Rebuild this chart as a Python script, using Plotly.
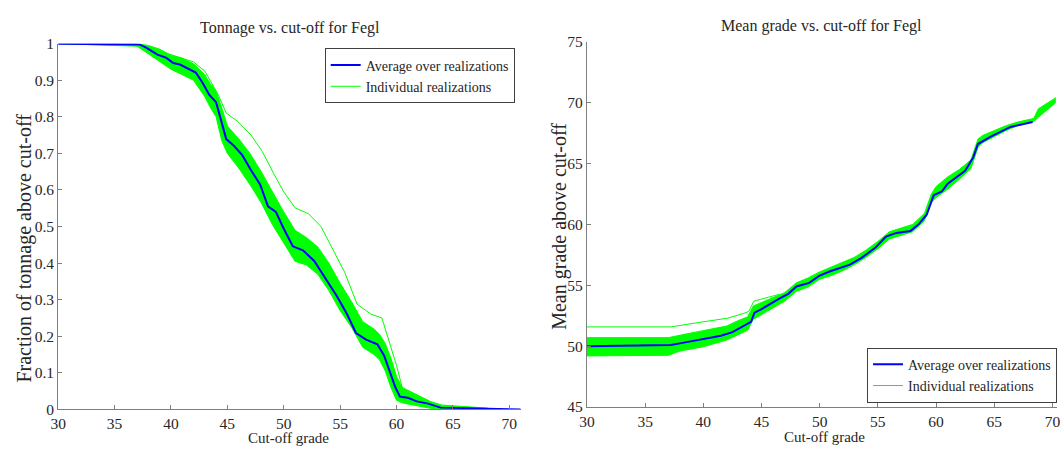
import plotly.graph_objects as go

# ---------------- Left panel: tonnage vs cut-off ----------------
avg_L_x = [30, 37.2, 37.8, 38.8, 39.6, 40.2, 40.8, 41.5, 42.2, 42.8, 43.4, 44.0, 44.4, 44.9,
           45.6, 46.3, 47.1, 47.9, 48.6, 49.3, 50.0, 50.8, 51.7, 52.7, 53.7, 54.7, 55.6,
           56.4, 57.3, 58.3, 58.9, 59.5, 59.9, 60.3, 61.0, 61.8, 62.8, 63.9, 66.5, 68.5, 69.5, 71.0]
avg_L_y = [1.0, 0.998, 0.989, 0.970, 0.961, 0.947, 0.943, 0.932, 0.921, 0.893, 0.860, 0.840,
           0.797, 0.739, 0.720, 0.696, 0.654, 0.615, 0.555, 0.540, 0.494, 0.446, 0.435, 0.406,
           0.358, 0.310, 0.261, 0.209, 0.191, 0.178, 0.147, 0.095, 0.060, 0.035, 0.032, 0.022,
           0.016, 0.005, 0.003, 0.001, 0.0, 0.0]

band_L_x = [30, 33, 37, 38, 39, 40, 41, 42, 43, 43.5, 44, 44.5, 45, 46, 47, 48, 49, 50, 51, 52,
            53, 54, 55, 56, 57, 58, 58.5, 59, 59.5, 60, 60.5, 61, 62, 63, 64, 65, 66, 67, 68, 68.5]
band_L_hi = [1.0, 1.0, 1.0, 0.995, 0.985, 0.968, 0.960, 0.945, 0.915, 0.890, 0.870, 0.825, 0.775,
             0.740, 0.700, 0.650, 0.595, 0.540, 0.490, 0.470, 0.445, 0.400, 0.345, 0.295, 0.240,
             0.220, 0.205, 0.180, 0.140, 0.090, 0.060, 0.052, 0.036, 0.022, 0.012, 0.010, 0.008,
             0.006, 0.004, 0.0]
band_L_lo = [1.0, 0.997, 0.993, 0.972, 0.950, 0.930, 0.915, 0.900, 0.855, 0.825, 0.800, 0.735,
             0.700, 0.660, 0.615, 0.565, 0.505, 0.455, 0.405, 0.395, 0.370, 0.325, 0.270, 0.225,
             0.170, 0.150, 0.135, 0.105, 0.060, 0.025, 0.018, 0.015, 0.008, 0.003, 0.001, 0.0,
             0.0, 0.0, 0.0, 0.0]

out_L_x = [30, 37, 40, 42, 43, 43.6, 44.2, 44.9, 45.9, 47.1, 48.1, 49.1, 50.0, 51.0, 52.2, 53.3,
           54.2, 55.4, 56.5, 57.7, 58.7, 59.4, 60.0, 60.5, 61.0, 62.0, 64.0, 66.0, 68.0]
out_L_y = [1.0, 1.0, 0.970, 0.950, 0.925, 0.893, 0.860, 0.810, 0.788, 0.750, 0.705, 0.645, 0.595,
           0.551, 0.535, 0.500, 0.445, 0.375, 0.288, 0.261, 0.250, 0.180, 0.120, 0.060, 0.045,
           0.030, 0.010, 0.005, 0.002]

# ---------------- Right panel: mean grade vs cut-off ----------------
avg_R_x = [30, 37.2, 38.1, 39.5, 40.1, 41.5, 42.5, 43.8, 44.1, 44.4, 45.0, 46.6, 47.3, 48.0, 49.1,
           50.0, 50.9, 52.6, 53.6, 54.8, 55.7, 56.6, 57.8, 58.5, 59.2, 59.8, 60.5, 61.0, 62.5,
           63.2, 63.6, 64.7, 66.4, 68.3]
avg_R_y = [50.0, 50.1, 50.25, 50.5, 50.65, 50.85, 51.15, 51.8, 52.0, 52.75, 53.05, 53.95, 54.3,
           54.9, 55.2, 55.8, 56.15, 56.7, 57.25, 58.1, 59.0, 59.3, 59.45, 60.0, 60.8, 62.4, 62.7,
           63.35, 64.4, 65.5, 66.6, 67.2, 68.0, 68.4]

band_R_x = [30, 37, 38, 40, 42, 43, 43.8, 44.3, 45, 46, 47, 48, 49, 50, 51, 52, 53, 54, 55, 56,
            57, 58, 59, 59.6, 60, 61, 62, 63, 63.6, 64, 65, 66, 67, 68, 68.4, 68.8, 70.3]
band_R_hi = [50.7, 50.7, 50.9, 51.25, 51.65, 52.1, 52.4, 53.3, 53.6, 54.0, 54.4, 55.2, 55.6, 56.1,
             56.5, 56.85, 57.3, 57.9, 58.6, 59.4, 59.7, 60.0, 60.9, 62.5, 63.1, 63.9, 64.5, 65.3,
             67.0, 67.3, 67.7, 68.1, 68.4, 68.6, 68.7, 69.5, 70.4]
band_R_lo = [49.2, 49.25, 49.6, 49.95, 50.5, 50.95, 51.3, 52.2, 52.6, 53.2, 53.7, 54.5, 54.85, 55.5,
             55.8, 56.2, 56.7, 57.3, 58.0, 58.8, 59.1, 59.4, 60.3, 61.8, 62.2, 62.9, 63.7, 64.6,
             66.3, 66.7, 67.2, 67.7, 68.1, 68.35, 68.45, 68.8, 70.0]

out_R_x = [30, 37.2, 39.8, 42.1, 43.5, 43.9, 44.35, 45.5, 46.5]
out_R_y = [51.58, 51.58, 51.97, 52.3, 52.7, 52.85, 53.7, 54.0, 54.25]

BLUE = "#0000FF"
GREEN = "#00FF00"
FONT = "Liberation Serif, Times New Roman, serif"
TXT = "#262626"
AX = "#7f7f7f"

fig = go.Figure()


def add_panel(xa, ya, leg, bx, blo, bhi, ox, oy, ax_, ay_):
    fig.add_trace(go.Scatter(x=bx, y=blo, mode="lines", line=dict(color=GREEN, width=1),
                             xaxis=xa, yaxis=ya, showlegend=False, legend=leg, hoverinfo="skip"))
    fig.add_trace(go.Scatter(x=bx, y=bhi, mode="lines", line=dict(color=GREEN, width=1),
                             fill="tonexty", fillcolor=GREEN,
                             xaxis=xa, yaxis=ya, showlegend=False, legend=leg, hoverinfo="skip"))
    fig.add_trace(go.Scatter(x=ox, y=oy, mode="lines", line=dict(color=GREEN, width=1),
                             xaxis=xa, yaxis=ya, name="Individual realizations",
                             showlegend=True, legend=leg, legendrank=2))
    fig.add_trace(go.Scatter(x=ax_, y=ay_, mode="lines", line=dict(color=BLUE, width=2),
                             xaxis=xa, yaxis=ya, name="Average over realizations",
                             showlegend=True, legend=leg, legendrank=1))


add_panel("x", "y", "legend", band_L_x, band_L_lo, band_L_hi, out_L_x, out_L_y, avg_L_x, avg_L_y)
add_panel("x2", "y2", "legend2", band_R_x, band_R_lo, band_R_hi, out_R_x, out_R_y, avg_R_x, avg_R_y)

W, H = 1063, 455

axis_common = dict(showline=True, linecolor=AX, linewidth=1, ticks="inside", ticklen=4,
                   tickcolor=AX, showgrid=False, zeroline=False, mirror=False,
                   ticklabeloverflow="allow",
                   tickfont=dict(family=FONT, size=15.5, color=TXT))

leg_common = dict(bgcolor="white", bordercolor="#404040", borderwidth=1,
                  font=dict(family=FONT, size=14, color=TXT), tracegroupgap=0,
                  itemwidth=30, traceorder="normal")

fig.update_layout(
    width=W, height=H,
    margin=dict(l=0, r=0, t=0, b=0),
    paper_bgcolor="white", plot_bgcolor="white",
    font=dict(family=FONT, size=14, color=TXT),
    xaxis=dict(domain=[50.7 / W, 518 / W], range=[30, 71], dtick=5, tick0=30, anchor="y", **axis_common),
    yaxis=dict(domain=[1 - 416 / H, 1 - 36 / H], range=[0, 1], dtick=0.1, tick0=0, anchor="x", **axis_common),
    xaxis2=dict(domain=[585 / W, 1060 / W], range=[30, 70.4], anchor="y2",
                tickmode="array", tickvals=[30, 35, 40, 45, 50, 55, 60, 65, 70], **axis_common),
    yaxis2=dict(domain=[1 - 413.5 / H, 1 - 34 / H], range=[45, 75], dtick=5, tick0=45, anchor="x2", **axis_common),
    legend=dict(x=512 / W, xanchor="right", y=1 - 41 / H, yanchor="top", **leg_common),
    legend2=dict(x=1060 / W, xanchor="right", y=1 - 409 / H, yanchor="bottom", **leg_common),
    showlegend=True,
)

ann = [
    dict(text="Tonnage vs. cut-off for Fegl", x=284.5 / W, y=1 - 20 / H, size=16),
    dict(text="Mean grade vs. cut-off for Fegl", x=822.5 / W, y=1 - 18 / H, size=16),
    dict(text="Cut-off grade", x=283 / W, y=1 - 446 / H, size=15),
    dict(text="Cut-off grade", x=825 / W, y=1 - 445 / H, size=15),
    dict(text="Fraction of tonnage above cut-off", x=17 / W, y=1 - 248 / H, size=20, textangle=-90),
    dict(text="Mean grade above cut-off", x=557 / W, y=1 - 226 / H, size=20, textangle=-90),
]
for a in ann:
    size = a.pop("size")
    fig.add_annotation(xref="paper", yref="paper", xanchor="center", yanchor="middle",
                       showarrow=False, font=dict(family=FONT, size=size, color=TXT), **a)

fig.write_html("out.html")
